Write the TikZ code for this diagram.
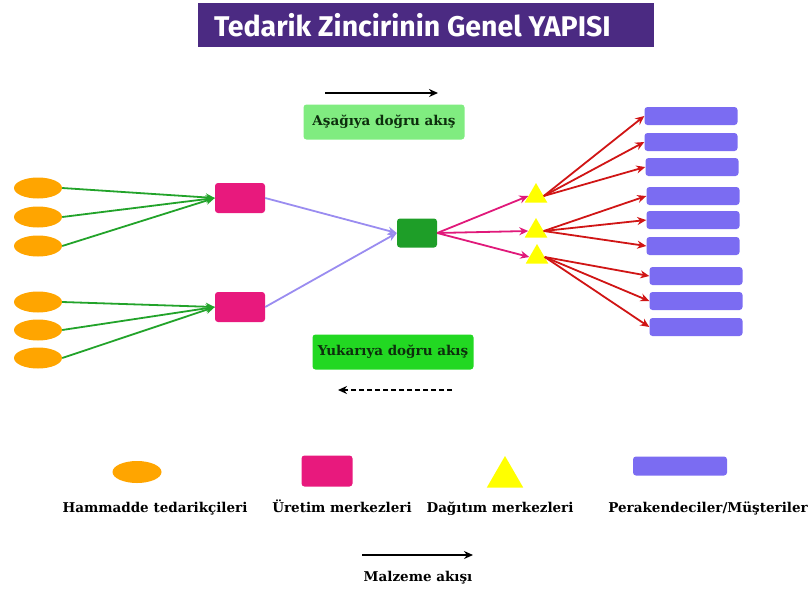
\documentclass[tikz,border=0pt]{standalone}
\usepackage{fontspec}
\setmainfont{DejaVu Serif}
\newfontfamily\titlefont{Fira Sans}
\usetikzlibrary{arrows.meta,shapes.geometric,positioning}

\definecolor{titlebg}{HTML}{4B2A82}
\definecolor{rawc}{HTML}{FFA500}
\definecolor{plantc}{HTML}{E8197D}
\definecolor{hubc}{HTML}{1E9E28}
\definecolor{dcc}{HTML}{FFFF00}
\definecolor{shopc}{HTML}{7B6CF2}
\definecolor{greenarr}{HTML}{22A32A}
\definecolor{lavarr}{HTML}{9A8CF0}
\definecolor{pinkarr}{HTML}{E0197A}
\definecolor{redarr}{HTML}{D01515}
\definecolor{downbox}{HTML}{80EC80}
\definecolor{upbox}{HTML}{22D822}
\definecolor{boxtext}{HTML}{0D2E0D}

\tikzset{
  raw/.style={ellipse, fill=rawc, minimum width=48pt, minimum height=21pt, inner sep=0pt},
  plant/.style={rectangle, rounded corners=3pt, fill=plantc, minimum width=50pt, minimum height=30pt, inner sep=0pt},
  hub/.style={rectangle, rounded corners=3pt, fill=hubc, minimum width=40pt, minimum height=29pt, inner sep=0pt},
  dcenter/.style={regular polygon, regular polygon sides=3, fill=dcc, minimum size=26pt, inner sep=0pt},
  shop/.style={rectangle, rounded corners=3pt, fill=shopc, minimum width=93pt, minimum height=18pt, inner sep=0pt},
  flowbox/.style={rectangle, rounded corners=3pt, minimum width=161pt, minimum height=35pt, text=boxtext,
    font=\bfseries\fontsize{13.5}{15}\selectfont},
  legendtext/.style={anchor=base, inner sep=0pt, font=\bfseries\fontsize{13.5}{15}\selectfont},
  link/.style={line width=1.8pt, -{Stealth[length=9pt,width=8pt]}},
  flowarrow/.style={line width=2.2pt, -{Stealth[length=9pt,width=8pt]}}
}

\begin{document}
\begin{tikzpicture}[x=1pt, y=-1pt]
  \useasboundingbox (0,0) rectangle (810,590);

  % title
  \node[fill=titlebg, minimum width=456pt, minimum height=44pt] (title) at (426,25) {};
  \node[anchor=west, text=white, inner sep=0pt] (titletext) at ([xshift=16pt]title.west)
    {\titlefont\bfseries\fontsize{28.5}{32}\selectfont Tedarik Zincirinin Genel YAPISI};

  % suppliers and plants
  \foreach \i/\y in {1/188, 2/217, 3/246, 4/302, 5/330, 6/358}
    \node[raw] (s\i) at (38,\y) {};
  \node[plant] (p1) at (240,198) {};
  \node[plant] (p2) at (240,307) {};
  \node[hub] (h) at (417,233) {};

  % distribution centers and retailers
  \node[dcenter] (d1) at (536,196) {};
  \node[dcenter] (d2) at (536,231) {};
  \node[dcenter] (d3) at (537,257) {};
  \foreach \i/\x/\y in {1/691/116, 2/691/142, 3/692/167, 4/693/196, 5/693/220,
                        6/693/246, 7/696/276, 8/696/301, 9/696/327}
    \node[shop] (r\i) at (\x,\y) {};

  % links
  \foreach \i in {1,2,3}
    \draw[link, greenarr] (s\i.east) -- (p1.west);
  \foreach \i in {4,5,6}
    \draw[link, greenarr] (s\i.east) -- (p2.west);
  \draw[link, lavarr] (p1.east) -- (h.west);
  \draw[link, lavarr] (p2.east) -- (h.west);
  \foreach \i in {1,2,3}
    \draw[link, pinkarr] (h.east) -- (d\i.west);
  \foreach \t/\r in {1/1, 1/2, 1/3, 2/4, 2/5, 2/6, 3/7, 3/8, 3/9}
    \draw[link, redarr] (d\t.east) -- (r\r.west);

  % flow direction
  \node[flowbox, fill=downbox] (down) at (384,122) {Aşağıya doğru akış};
  \coordinate (da) at (325,93);
  \coordinate (db) at (438,93);
  \draw[flowarrow] (da) -- (db);
  \node[flowbox, fill=upbox] (up) at (393,352) {Yukarıya doğru akış};
  \coordinate (ua) at (452,390);
  \coordinate (ub) at (338,390);
  \draw[flowarrow, line width=1.8pt, dash pattern=on 5pt off 3pt] (ua) -- (ub);

  % legend
  \node[raw, minimum width=49pt, minimum height=22pt] (lraw) at (137,472) {};
  \node[plant, minimum width=51pt, minimum height=31pt] (lplant) at (327,471) {};
  \node[dcenter, minimum size=42pt] (ldc) at (505,477) {};
  \node[shop, minimum width=94pt, minimum height=19pt] (lshop) at (680,466) {};
  \node[legendtext] (traw) at (155,512) {Hammadde tedarikçileri};
  \node[legendtext] (tplant) at (342,512) {Üretim merkezleri};
  \node[legendtext] (tdc) at (500,512) {Dağıtım merkezleri};
  \node[legendtext] (tshop) at (708,512) {Perakendeciler/Müşteriler};
  \coordinate (ma) at (362,555);
  \coordinate (mb) at (473,555);
  \draw[flowarrow] (ma) -- (mb);
  \node[legendtext] (tflow) at (418,581) {Malzeme akışı};
\end{tikzpicture}
\end{document}
